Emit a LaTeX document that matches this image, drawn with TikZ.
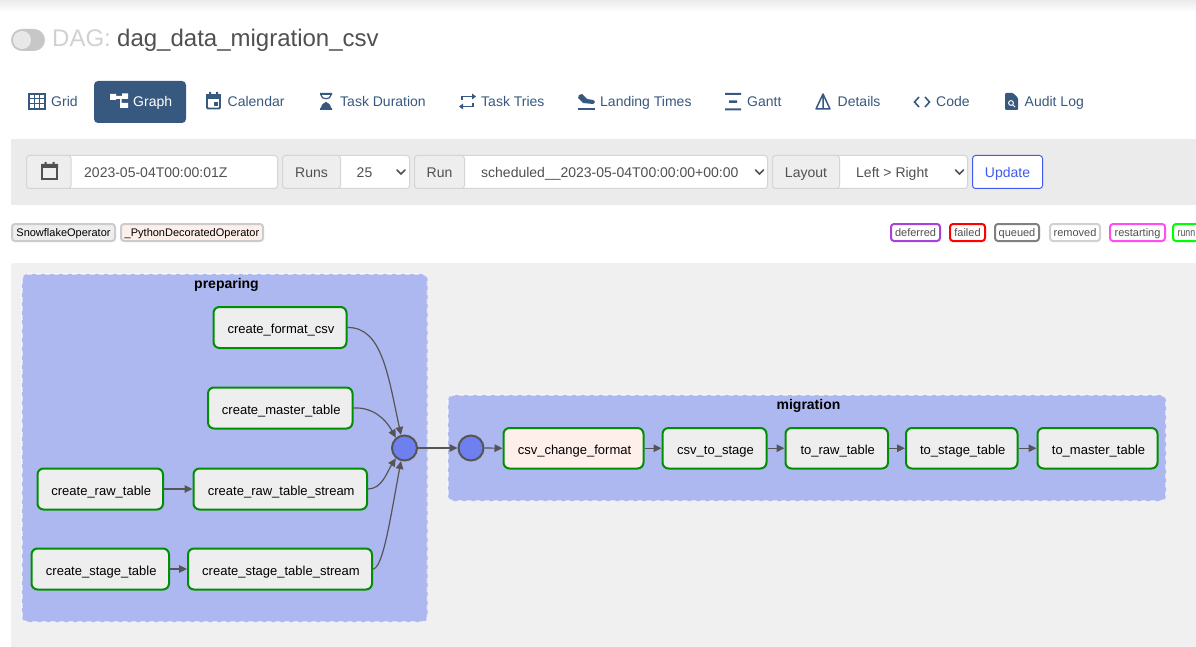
\documentclass[tikz,border=0pt]{standalone}
\usepackage{fontspec}
\setmainfont{Liberation Sans}
\usetikzlibrary{arrows.meta,shadings}
\definecolor{tabblue}{HTML}{38597F}
\definecolor{ink}{HTML}{51504F}
\definecolor{panel}{HTML}{F0F0F0}
\definecolor{groupfill}{HTML}{AEB8F0}
\definecolor{circfill}{HTML}{6E80F0}
\definecolor{edgecol}{HTML}{555555}
\definecolor{taskgreen}{HTML}{008F00}
\definecolor{pyfill}{HTML}{FFEFEB}
\definecolor{snowfill}{HTML}{EEEEEE}
\definecolor{ctlborder}{HTML}{D5D5D5}
\definecolor{addon}{HTML}{EEEEEE}
\definecolor{updateblue}{HTML}{3F5AF0}
\definecolor{sdef}{HTML}{A742DB}
\definecolor{srest}{HTML}{FF4FF0}
\newcommand{\fs}[1]{\fontsize{#1}{#1}\selectfont}
\tikzset{
  x=1pt,y=-1pt,
  task/.style={draw=taskgreen,line width=2pt,rounded corners=6pt,fill=snowfill,text=black,inner sep=0pt,font=\fs{13},text height=12pt,text depth=0pt},
  pytask/.style={task,fill=pyfill},
  joint/.style={circle,draw=edgecol,line width=2pt,fill=circfill,minimum size=25pt,inner sep=0pt},
  edge/.style={draw=edgecol,line width=1.2pt,-{Triangle[length=8pt,width=7.5pt]}},
  grp/.style={fill=groupfill,draw=white,draw opacity=.55,line width=1.6pt,dash pattern=on 5pt off 4pt,rounded corners=5pt},
  grptitle/.style={font=\fs{14}\bfseries,text=black,inner sep=0pt,anchor=base},
  tablabel/.style={font=\fs{14},text=tabblue,anchor=base west,inner sep=0pt},
  icon/.style={draw=tabblue,line width=1.4pt},
  ctltext/.style={font=\fs{14},text=ink,inner sep=0pt,anchor=base},
  ctl/.style={draw=ctlborder,line width=1pt,rounded corners=3pt,fill=white},
  addonbox/.style={draw=ctlborder,line width=1pt,rounded corners=3pt,fill=addon},
  chev/.style={draw=ink,line width=1.5pt,line cap=round},
  badge/.style={draw,line width=2pt,rounded corners=3pt,fill=white},
  badgetext/.style={font=\fs{11},text=ink,inner sep=0pt,anchor=base},
}
\newcommand{\chevron}[2]{\draw[chev] (#1-4,#2-2) -- (#1,#2+2) -- (#1+4,#2-2);}
\newcommand{\taskbox}[7]{% style,name,x0,y0,x1,y1,text
  \node[#1,minimum width=#5pt-#3pt,minimum height=#6pt-#4pt] (#2) at ({(#3+#5)/2},{(#4+#6)/2}) {\hspace{2pt}#7};}
\begin{document}
\begin{tikzpicture}
\useasboundingbox (0,0) rectangle (1196,647);
\clip (0,0) rectangle (1196,647);
\fill[white] (0,0) rectangle (1196,647);
\shade[top color=black!8,bottom color=white] (0,0) rectangle (1196,12);
% header
\fill[black!22,rounded corners=11pt] (11,29) rectangle (45,51);
\fill[black!9] (22,40) circle (9);
\node[anchor=base west,inner sep=0pt,font=\fs{24},text=black!18] (daglabel) at (52,47) {DAG:};
\node[anchor=base west,inner sep=0pt,font=\fs{24},text=ink] (dagname) at (117,47) {dag\_data\_migration\_csv};
% tabs
\fill[tabblue,rounded corners=4pt] (94,81) rectangle (186,123);
\node[tablabel] (tgrid) at (51,107) {Grid};
\node[tablabel,text=white] (tgraph) at (133,107) {Graph};
\node[tablabel] (tcal) at (227.5,107) {Calendar};
\node[tablabel] (tdur) at (340,107) {Task Duration};
\node[tablabel] (ttries) at (481,107) {Task Tries};
\node[tablabel] (tland) at (600,107) {Landing Times};
\node[tablabel] (tgantt) at (747,107) {Gantt};
\node[tablabel] (tdet) at (837.5,107) {Details};
\node[tablabel] (tcode) at (936,107) {Code};
\node[tablabel] (taudit) at (1024.5,107) {Audit Log};
% icons
\draw[icon,line width=1.2pt] (29,94) rectangle (45,109);
\draw[icon,line width=1pt] (34.3,94) -- (34.3,109) (39.6,94) -- (39.6,109) (29,99) -- (45,99) (29,104) -- (45,104);
\fill[white] (110,94) rectangle (116,100) (116,96) rectangle (123,99) (120,96) rectangle (121.5,106) (120,103) rectangle (128,108) (122,93.5) rectangle (128,99);
\draw[icon,line width=1.8pt,rounded corners=1pt] (207,96) rectangle (220,108.5);
\fill[tabblue] (206,94) rectangle (221,99);
\fill[tabblue] (209,92) rectangle (211,95) (216,92) rectangle (218,95);
\fill[tabblue] (214,102) rectangle (218,106);
\fill[tabblue] (320,93) rectangle (332,95) (320,108) rectangle (332,110);
\draw[icon,line width=1.2pt] (321,95) .. controls (321,100) and (331,100) .. (331,95);
\fill[tabblue] (321,108) .. controls (321,103) and (326,103) .. (326,101.5) .. controls (326,103) and (331,103) .. (331,108) -- cycle;
\draw[icon,line width=1.6pt] (462,100) -- (462,96.5) -- (473,96.5) (473,103) -- (473,106.5) -- (462,106.5);
\fill[tabblue] (472,93.5) -- (476,96.5) -- (472,99.5) -- cycle (463,103.5) -- (459,106.5) -- (463,109.5) -- cycle;
\fill[tabblue] (578,108) rectangle (595,110);
\fill[tabblue] (579,95) -- (582,94) -- (587,99) -- (593,100) .. controls (596,101) and (595,104) .. (593,104) -- (583,103) -- (578,98) -- cycle;
\fill[tabblue] (725,93) rectangle (741,95) (725,108.5) rectangle (741,110.5) (729,100.5) rectangle (737,103);
\draw[icon,line width=1.5pt,line join=round] (823,94) -- (816,109) -- (830,109) -- cycle (823,96) -- (823,108);
\draw[icon,line width=1.6pt] (919,97) -- (914.5,102) -- (919,107) (925,97) -- (929.5,102) -- (925,107);
\fill[tabblue,rounded corners=1pt] (1005,93) -- (1013,93) -- (1018,98) -- (1018,110) -- (1005,110) -- cycle;
\draw[white,line width=1pt] (1011,103) circle (2.4) (1012.8,104.8) -- (1015,107);
% filter bar
\fill[panel!98!black] (11,139) rectangle (1196,205);
\draw[ctl] (60,155.5) rectangle (277.5,188.5);
\draw[addonbox] (26.5,155.5) rectangle (71,188.5);
\draw[draw=ink,line width=1.8pt] (42,165) rectangle (57,179);
\fill[ink] (41,164) rectangle (58,168) (44.5,162) rectangle (46.5,165) (52.5,162) rectangle (54.5,165);
\node[ctltext,anchor=base west] (fdate) at (84,177.7) {2023-05-04T00:00:01Z};
\draw[ctl] (330,155.5) rectangle (409.5,188.5);
\draw[addonbox] (282.5,155.5) rectangle (340.5,188.5);
\node[ctltext] (lruns) at (311.5,177.7) {Runs};
\node[ctltext] (vruns) at (364.5,177.7) {25};
\chevron{401}{172}
\draw[ctl] (450,155.5) rectangle (767.5,188.5);
\draw[addonbox] (414.5,155.5) rectangle (464.5,188.5);
\node[ctltext] (lrun) at (439.5,177.7) {Run};
\node[ctltext,anchor=base west] (vrun) at (481,177.7) {scheduled\_\_2023-05-04T00:00:00+00:00};
\chevron{759.5}{172}
\draw[ctl] (830,155.5) rectangle (967.5,188.5);
\draw[addonbox] (772.5,155.5) rectangle (839.5,188.5);
\node[ctltext] (llay) at (806,177.7) {Layout};
\node[ctltext,anchor=base west] (vlay) at (856,177.7) {Left > Right};
\chevron{959.5}{172}
\draw[draw=updateblue,line width=1pt,rounded corners=3pt,fill=white] (972.5,155.5) rectangle (1042.5,188.5);
\node[ctltext,text=updateblue] (upd) at (1007.5,177.7) {Update};
% legend
\draw[badge,draw=black!20,fill=snowfill] (12,224) rectangle (115,241);
\node[badgetext,text=black] (opa) at (63.5,236) {SnowflakeOperator};
\draw[badge,draw=black!20,fill=pyfill] (121,224) rectangle (263,241);
\node[badgetext,text=black] (opb) at (192,236) {\_PythonDecoratedOperator};
\draw[badge,draw=sdef] (891,224) rectangle (940,241);
\node[badgetext] (bdef) at (915.5,236) {deferred};
\draw[badge,draw=red] (950,224) rectangle (985,241);
\node[badgetext] (bfail) at (967.5,236) {failed};
\draw[badge,draw=gray] (995,224) rectangle (1039,241);
\node[badgetext] (bq) at (1017,236) {queued};
\draw[badge,draw=black!18] (1050,224) rectangle (1100,241);
\node[badgetext] (brem) at (1075,236) {removed};
\draw[badge,draw=srest] (1110,224) rectangle (1165,241);
\node[badgetext] (brest) at (1137.5,236) {restarting};
\draw[badge,draw=green] (1173,224) rectangle (1210,241);
\node[badgetext,anchor=base west,xscale=.8] (brun) at (1177.5,236) {runn};
% graph panel
\fill[panel,rounded corners=3pt] (11,263) rectangle (1210,660);
\path[grp] (22,274) rectangle (427.5,622);
\path[grp] (448,395) rectangle (1166,501);
\node[grptitle] (gprep) at (226.5,288) {preparing};
\node[grptitle] (gmig) at (808.5,409) {migration};
% tasks
\taskbox{task}{fmt}{213.5}{307}{346.5}{348}{create\_format\_csv}
\taskbox{task}{mast}{208}{387.5}{352.5}{428.5}{create\_master\_table}
\taskbox{task}{raw}{37.5}{468.5}{163}{509.5}{create\_raw\_table}
\taskbox{task}{raws}{193.5}{468.5}{367}{509.5}{create\_raw\_table\_stream}
\taskbox{task}{stg}{31.5}{548.5}{169}{589.5}{create\_stage\_table}
\taskbox{task}{stgs}{188}{548.5}{372}{589.5}{create\_stage\_table\_stream}
\node[joint] (jout) at (404.5,448) {};
\node[joint] (jin) at (471,448) {};
\taskbox{pytask}{chg}{503.5}{428}{643.5}{468.5}{csv\_change\_format}
\taskbox{task}{cts}{662.5}{428}{766.5}{468.5}{csv\_to\_stage}
\taskbox{task}{trt}{785.5}{428}{888}{468.5}{to\_raw\_table}
\taskbox{task}{tst}{906}{428}{1017.5}{468.5}{to\_stage\_table}
\taskbox{task}{tmt}{1037.5}{428}{1157.5}{468.5}{to\_master\_table}
% edges
\draw[edge] (fmt.east) .. controls (382,327) and (388,375) .. (jout.105);
\draw[edge] (mast.east) .. controls (372,407) and (385,418) .. (jout.130);
\draw[edge] (raw.east) -- (raws.west);
\draw[edge] (stg.east) -- (stgs.west);
\draw[edge] (raws.east) .. controls (382,489) and (387,472) .. (jout.230);
\draw[edge] (stgs.east) .. controls (383,568) and (390,520) .. (jout.255);
\draw[edge] (jout.east) -- (jin.west);
\draw[edge] (jin.east) -- (chg.west);
\draw[edge] (chg.east) -- (cts.west);
\draw[edge] (cts.east) -- (trt.west);
\draw[edge] (trt.east) -- (tst.west);
\draw[edge] (tst.east) -- (tmt.west);
\end{tikzpicture}
\end{document}
